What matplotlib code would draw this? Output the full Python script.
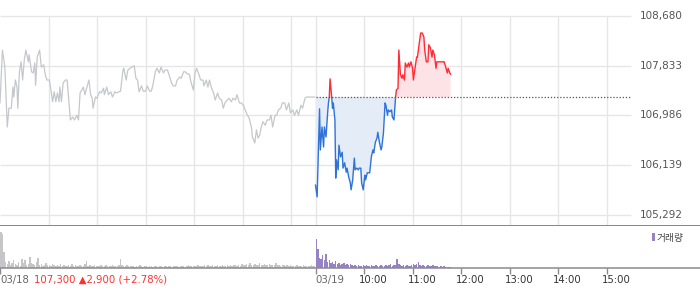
import numpy as np
import matplotlib.pyplot as plt
from matplotlib.patches import Rectangle

# previous close / reference price (dotted line)
ref_price = 107300
y_ticks = [108680, 107833, 106986, 106139, 105292]

# minutes since 09:00 of 03/18 (03/19 starts at 390)
day1_min = [0, 3, 6, 9, 11, 14, 16, 17, 19, 21, 22, 24, 26, 28, 30, 32, 35, 36, 39, 41,
            43, 44, 46, 49, 51, 54, 56, 58, 61, 63, 65, 67, 69, 71, 73, 74, 76, 78, 81, 83,
            85, 87, 90, 92, 95, 97, 99, 101, 103, 105, 107, 110, 112, 114, 115, 118, 120, 123, 125, 128,
            129, 132, 134, 137, 139, 142, 144, 147, 149, 152, 153, 156, 158, 161, 163, 166, 168, 170, 172, 175,
            177, 180, 182, 185, 187, 189, 192, 194, 197, 199, 202, 204, 207, 209, 212, 214, 217, 219, 222, 224,
            227, 229, 232, 234, 236, 239, 241, 243, 246, 248, 251, 252, 255, 257, 259, 261, 264, 266, 269, 271,
            274, 276, 278, 281, 283, 286, 288, 291, 293, 296, 298, 301, 303, 306, 308, 311, 312, 315, 317, 319,
            321, 323, 325, 328, 330, 333, 335, 337, 340, 342, 344, 347, 349, 352, 354, 357, 359, 362, 364, 367,
            369, 372, 374, 377, 379, 389]
day1_price = [107200, 108100, 107810, 106790, 107110, 107110, 107470, 107300, 107590, 107470,
              107110, 107730, 107900, 107590, 107930, 108100, 107900, 108020, 107730, 107710,
              107880, 107500, 107980, 108100, 107810, 107850, 107680, 107590, 107590, 107420,
              107220, 107390, 107220, 107370, 107220, 107470, 107220, 107540, 107590, 107590,
              107250, 106910, 106960, 106910, 106990, 106910, 107370, 107420, 107470, 107340,
              107450, 107590, 107340, 107280, 107110, 107300, 107280, 107390, 107370, 107450,
              107340, 107470, 107340, 107390, 107300, 107390, 107370, 107390, 107400, 107760,
              107790, 107590, 107760, 107790, 107810, 107830, 107620, 107590, 107390, 107490,
              107400, 107400, 107490, 107400, 107400, 107500, 107730, 107790, 107710, 107810,
              107710, 107760, 107760, 107680, 107540, 107490, 107490, 107590, 107640, 107620,
              107730, 107730, 107690, 107690, 107560, 107420, 107710, 107790, 107680, 107590,
              107590, 107490, 107590, 107470, 107590, 107470, 107370, 107250, 107370, 107280,
              107250, 107110, 107200, 107250, 107280, 107220, 107280, 107250, 107340, 107200,
              107200, 107160, 107080, 106990, 106940, 106770, 106620, 106520, 106740, 106600,
              106650, 106790, 106880, 106820, 106910, 106910, 106990, 106790, 106990, 106990,
              107080, 107110, 107200, 107200, 107080, 107200, 107030, 107080, 106990, 107080,
              106990, 107160, 107110, 107280, 107300, 107300]

day2_min = [390, 392, 395, 396, 398, 400, 401, 403, 405, 406, 407, 408, 410, 411, 412, 414, 415, 416, 418, 419,
            421, 423, 424, 426, 428, 429, 431, 433, 434, 436, 438, 439, 441, 443, 444, 446, 447, 449, 451, 452,
            454, 456, 457, 459, 461, 462, 464, 466, 467, 469, 471, 472, 474, 476, 477, 479, 480, 482, 484, 485,
            487, 489, 490, 492, 493, 495, 497, 498, 500, 501, 503, 505, 506, 508, 510, 511, 513, 515, 516, 518,
            520, 522, 524, 525, 527, 529, 530, 532, 534, 535, 537, 539, 540, 542, 544, 546, 548, 549, 551, 553,
            554, 556, 557]
day2_price = [105800, 105600, 107100, 106400, 106790, 106450, 106790, 106620, 107030, 107200,
              107300, 107610, 107300, 107110, 107200, 106910, 105920, 106230, 106060, 106480,
              106280, 106360, 106090, 106180, 106020, 106090, 105940, 105840, 105720, 105890,
              106260, 106060, 106090, 106060, 106090, 106090, 105840, 105720, 105970, 105890,
              106010, 106010, 106010, 106280, 106400, 106350, 106530, 106600, 106700, 106530,
              106400, 106450, 106690, 107200, 107160, 106990, 107080, 107050, 107080, 106960,
              106910, 107300, 107420, 107450, 108100, 107680, 107620, 107680, 107590, 107880,
              107810, 107880, 107810, 107900, 107790, 107590, 107790, 107980, 107980, 108190,
              108390, 108390, 108320, 108100, 107900, 107900, 108190, 108140, 107980, 108100,
              108020, 107790, 107900, 107900, 107900, 107900, 107900, 107900, 107810, 107710,
              107790, 107710, 107690]

# volume, 2-minute bins (thousand shares)
vol1 = [36, 34, 16, 6, 4, 7, 3, 5, 8, 4, 3, 6, 2, 9, 5, 8, 3, 4, 11, 5, 4,
        3, 6, 10, 3, 4, 2, 3, 5, 3, 3, 2, 4, 3, 2, 3, 2, 4, 2, 3, 2,
        2, 3, 2, 4, 2, 3, 2, 2, 3, 2, 2, 4, 7, 2, 3, 2, 2, 3, 2, 2,
        2, 3, 2, 2, 3, 2, 2, 2, 3, 2, 2, 2, 3, 9, 3, 2, 2, 3, 2, 2,
        2, 2, 1, 2, 2, 3, 2, 1, 2, 2, 1, 2, 2, 1, 2, 2, 1, 2, 2, 1,
        2, 2, 1, 2, 2, 1, 2, 2, 2, 1, 2, 2, 2, 1, 2, 3, 2, 2, 2, 2,
        2, 3, 2, 2, 2, 3, 2, 3, 2, 2, 3, 2, 2, 3, 2, 2, 3, 2, 2, 3,
        2, 3, 2, 3, 3, 2, 3, 2, 4, 3, 3, 4, 3, 5, 3, 3, 4, 3, 3, 5,
        3, 3, 4, 3, 3, 4, 3, 3, 3, 5, 3, 3, 2, 3, 3, 2, 3, 2, 3, 2,
        2, 2, 3, 2, 2, 2, 3, 2, 2, 2, 2, 3, 2, 2]
vol2 = [29, 19, 10, 9, 13, 8, 14, 6, 8, 5, 6, 4, 7, 4, 5, 3, 4, 5, 3, 4,
        3, 4, 3, 2, 3, 2, 3, 2, 2, 3, 2, 3, 2, 2, 3, 2, 2, 3, 2, 2,
        3, 2, 2, 3, 2, 3, 4, 2, 3, 3, 9, 4, 3, 2, 3, 2, 3, 2, 2, 3,
        4, 3, 4, 6, 3, 2, 3, 2, 2, 3, 2, 2, 3, 2, 2, 2, 1, 2, 1, 2,
        1, 1, 1, 1]

tick_min = [0, 390, 450, 510, 570, 630, 690, 750]
tick_labels = ['03/18', '03/19', '10:00', '11:00', '12:00', '13:00', '14:00', '15:00']
grid_min = [60, 120, 180, 240, 300, 360, 390, 450, 510, 570, 630, 690, 750]
info_text = '107,300 \u25b22,900 (+2.78%)'

W, H = 700, 289
fig = plt.figure(figsize=(W / 100, H / 100), dpi=100)


def px_axes(x0, y0, x1, y1):
    return fig.add_axes([x0 / W, 1 - y1 / H, (x1 - x0) / W, (y1 - y0) / H])


XMAX = 780 * W / 631
ymin = 105113

ax = px_axes(0, 16, W, 225.5)
ax.set_xlim(0, XMAX)
ax.set_ylim(ymin, 108680)
for s in ax.spines.values():
    s.set_visible(False)
ax.set_xticks([])
ax.set_yticks([])

for v in y_ticks:
    ax.hlines(v, 0, 780, color='#e6e6e6', lw=1, zorder=0, clip_on=False)
    ax.text(844, v, f'{v:,}', ha='right', va='center', fontsize=7.5, color='#555555')
for m in grid_min:
    ax.vlines(m, ymin, 108680, color='#e6e6e6', lw=1, zorder=0)
ax.axhline(ymin, color='#7d7d7d', lw=1.3, clip_on=False)

ax.plot(day1_min, day1_price, color='#c5c7cc', lw=0.9, zorder=2)

x2 = np.array(day2_min)
p2 = np.array(day2_price)
ax.fill_between(x2, p2, ref_price, where=p2 >= ref_price, interpolate=True,
                color='#fde3e6', lw=0, zorder=1)
ax.fill_between(x2, p2, ref_price, where=p2 <= ref_price, interpolate=True,
                color='#e4ecf8', lw=0, zorder=1)
up, = ax.plot(x2, p2, color='#ff2b36', lw=1.0, zorder=3)
dn, = ax.plot(x2, p2, color='#2f72d8', lw=1.0, zorder=3)
up.set_clip_path(Rectangle((0, ref_price), 900, 5000, transform=ax.transData))
dn.set_clip_path(Rectangle((0, ref_price - 5000), 900, 5000, transform=ax.transData))
ax.hlines(ref_price, 390, 780, color='#555555', lw=0.9, linestyles=(0, (1, 1.5)), zorder=4)

# volume panel
av = px_axes(0, 226, W, 268.3)
av.set_xlim(0, XMAX)
av.set_ylim(0, 42)
for k in ['top', 'left', 'right']:
    av.spines[k].set_visible(False)
av.spines['bottom'].set_color('#8a8a8a')
av.spines['bottom'].set_linewidth(1.1)
av.set_yticks([])
av.set_xticks(tick_min)
av.set_xticklabels([])
av.tick_params(axis='x', length=4, color='#8a8a8a', width=1)

av.bar(np.arange(len(vol1)) * 2 + 1, vol1, width=1.75, color='#c6c6c9', lw=0)
av.bar(390 + np.arange(len(vol2)) * 2 + 1, vol2, width=1.75, color='#9783c4', lw=0)

for m, lab in zip(tick_min, tick_labels):
    col = '#666666' if '/' in lab else '#333333'
    dx = 0 if '/' in lab else -5
    av.annotate(lab, xy=(m, 0), xycoords=('data', 'axes fraction'), xytext=(dx, -12),
                textcoords='offset pixels', ha='left', va='center', fontsize=7.3, color=col)
fig.text(34 / W, 1 - 280 / H, info_text, ha='left', va='center', fontsize=7.3, color='#ff3030')

fig.patches.append(Rectangle((652 / W, 1 - 241 / H), 3 / W, 8 / H, transform=fig.transFigure,
                             color='#9783c4', lw=0))
fig.text(657 / W, 1 - 237.5 / H, '거래량', ha='left', va='center', fontsize=7, color='#444444',
         family=['Noto Sans CJK KR', 'DejaVu Sans'])

fig.savefig('out.png', dpi=100)
